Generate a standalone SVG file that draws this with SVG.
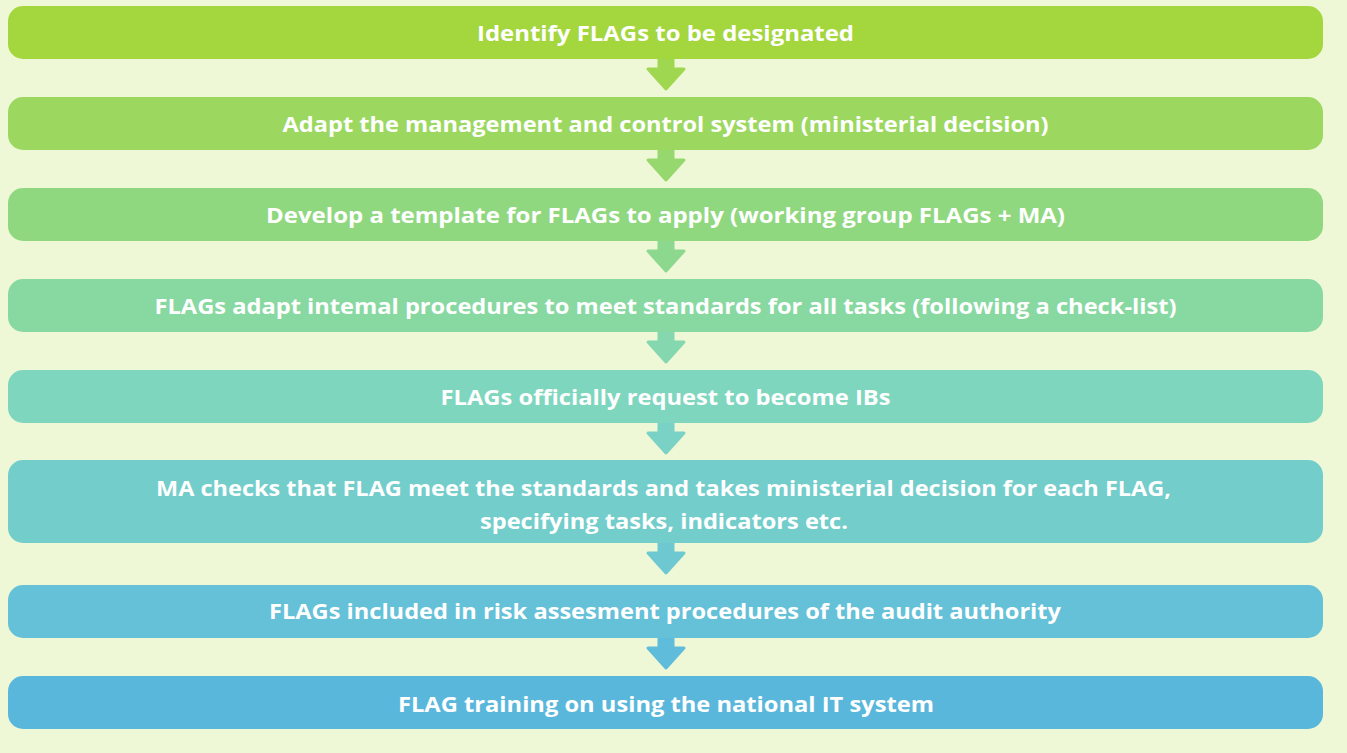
<svg xmlns="http://www.w3.org/2000/svg" xmlns:xlink="http://www.w3.org/1999/xlink" width="1347" height="753" viewBox="0 0 1347 753">
<style>
.box{stroke:none}
.t{font-family:"Open Sans","Liberation Sans",sans-serif;font-weight:bold;font-size:22px;fill:#ffffff;text-anchor:middle}
.arr{stroke-width:3;stroke-linejoin:round}
</style>
<defs>
<path id="arrow" d="M-7,-2 V10 H-18 L0,30 L18,10 H7 V-2 Z"/>
</defs>
<rect x="0" y="0" width="1347" height="753" fill="#EFF8D6"/>
<g id="connectors">
<use xlink:href="#arrow" x="666" y="59" class="arr" fill="#A0D750" stroke="#A0D750"/>
<use xlink:href="#arrow" x="666" y="150" class="arr" fill="#97D86E" stroke="#97D86E"/>
<use xlink:href="#arrow" x="666" y="241" class="arr" fill="#8CD88F" stroke="#8CD88F"/>
<use xlink:href="#arrow" x="666" y="332" class="arr" fill="#84D7AF" stroke="#84D7AF"/>
<use xlink:href="#arrow" x="666" y="423" class="arr" fill="#79D2C5" stroke="#79D2C5"/>
<use xlink:href="#arrow" x="666" y="543" class="arr" fill="#6EC8D2" stroke="#6EC8D2"/>
<use xlink:href="#arrow" x="666" y="638" class="arr" fill="#5FBCDA" stroke="#5FBCDA"/>
</g>
<g id="n1"><rect class="box" x="8" y="6" width="1315" height="53" rx="15" fill="#A4D63E"/><text class="t" x="665.5" y="40.5" textLength="377" lengthAdjust="spacingAndGlyphs">Identify FLAGs to be designated</text></g>
<g id="n2"><rect class="box" x="8" y="97" width="1315" height="53" rx="15" fill="#9CD860"/><text class="t" x="665.5" y="131.5" textLength="766" lengthAdjust="spacingAndGlyphs">Adapt the management and control system (ministerial decision)</text></g>
<g id="n3"><rect class="box" x="8" y="188" width="1315" height="53" rx="15" fill="#90D880"/><text class="t" x="665.5" y="222.5" textLength="799" lengthAdjust="spacingAndGlyphs">Develop a template for FLAGs to apply (working group FLAGs + MA)</text></g>
<g id="n4"><rect class="box" x="8" y="279" width="1315" height="53" rx="15" fill="#88D8A2"/><text class="t" x="665.5" y="313.5" textLength="1022" lengthAdjust="spacingAndGlyphs">FLAGs adapt intemal procedures to meet standards for all tasks (following a check-list)</text></g>
<g id="n5"><rect class="box" x="8" y="370" width="1315" height="53" rx="15" fill="#7ED6BE"/><text class="t" x="665.5" y="404.5" textLength="450" lengthAdjust="spacingAndGlyphs">FLAGs officially request to become IBs</text></g>
<g id="n6"><rect class="box" x="8" y="460" width="1315" height="83" rx="15" fill="#73CDCB"/><text class="t" x="663.5" y="495.5" textLength="1015" lengthAdjust="spacingAndGlyphs">MA checks that FLAG meet the standards and takes ministerial decision for each FLAG,</text><text class="t" x="664" y="528.5" textLength="368" lengthAdjust="spacingAndGlyphs">specifying tasks, indicators etc.</text></g>
<g id="n7"><rect class="box" x="8" y="585" width="1315" height="53" rx="15" fill="#64C1D8"/><text class="t" x="665" y="618.5" textLength="792" lengthAdjust="spacingAndGlyphs">FLAGs included in risk assesment procedures of the audit authority</text></g>
<g id="n8"><rect class="box" x="8" y="676" width="1315" height="53" rx="15" fill="#5AB7DC"/><text class="t" x="666" y="711.5" textLength="536" lengthAdjust="spacingAndGlyphs">FLAG training on using the national IT system</text></g>
</svg>
